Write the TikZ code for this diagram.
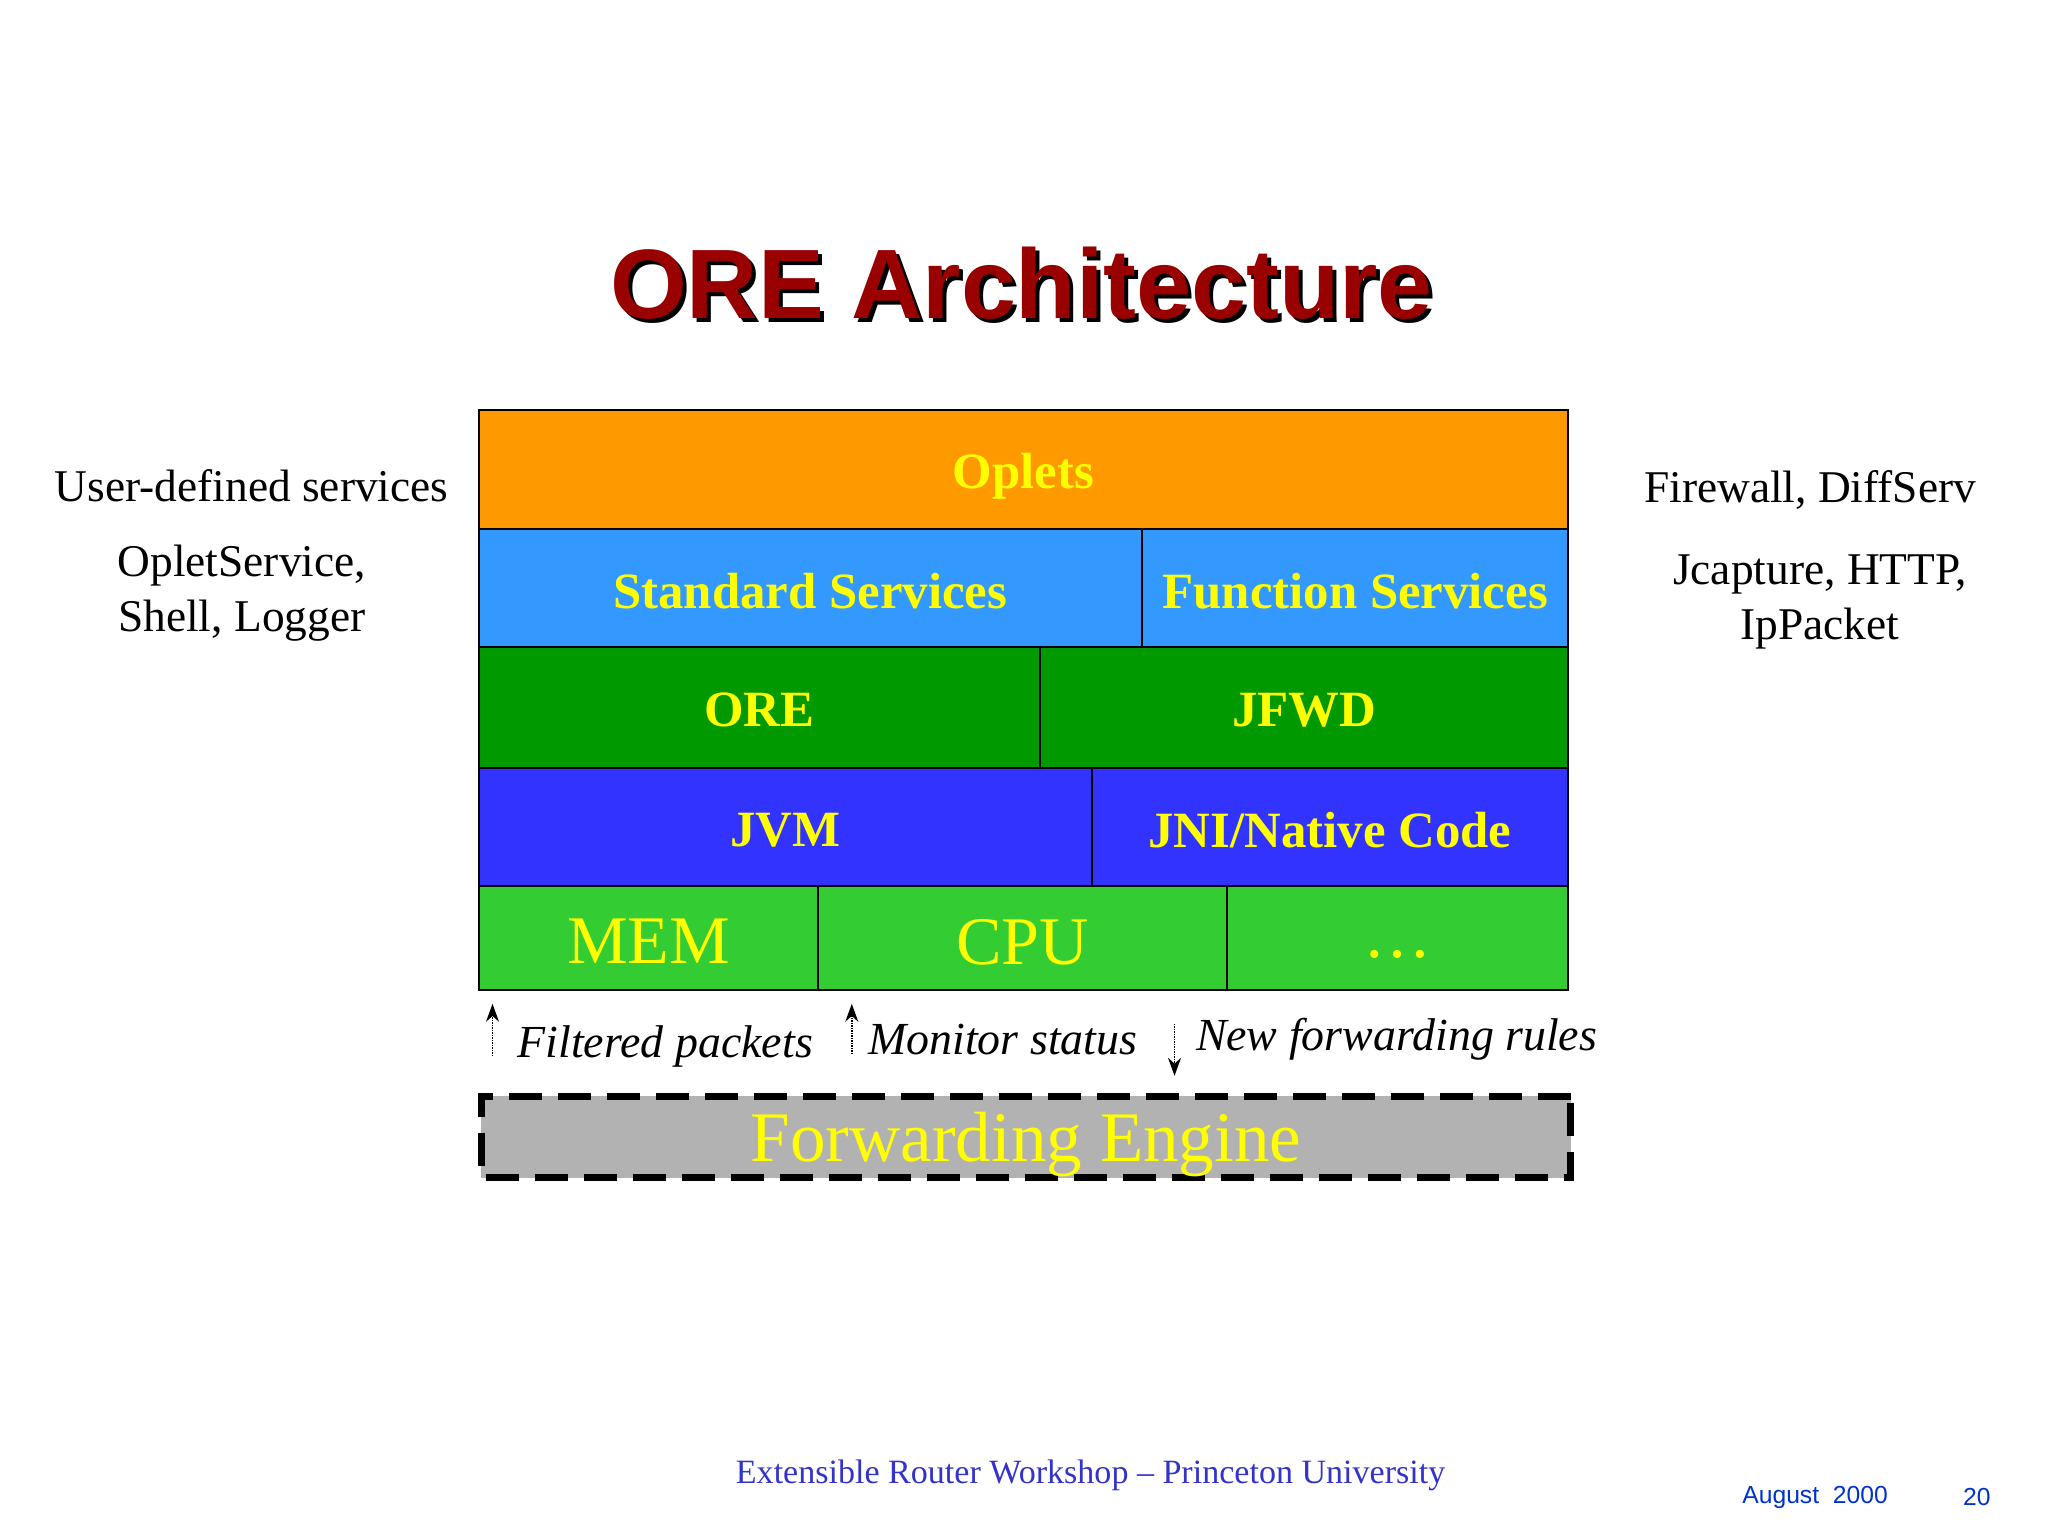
\documentclass[tikz,border=0pt]{standalone}
\usepackage{fontspec}
\setmainfont{Liberation Serif}
\setsansfont{Liberation Sans}
\usetikzlibrary{arrows.meta}
\definecolor{orng}{HTML}{FF9900}
\definecolor{lblue}{HTML}{3399FF}
\definecolor{dgreen}{HTML}{009900}
\definecolor{vblue}{HTML}{3333FF}
\definecolor{bgreen}{HTML}{33CC33}
\definecolor{fegray}{HTML}{B2B2B2}
\definecolor{yel}{HTML}{FFFF00}
\definecolor{ttl}{HTML}{990000}
\definecolor{foot}{HTML}{3333CC}
\definecolor{foot2}{HTML}{0033CC}
\begin{document}
\begin{tikzpicture}[x=0.987pt,y=-0.987pt,every node/.append style={scale=0.987},
  cell/.style={draw=black,line width=2pt,anchor=north west,inner sep=0pt,text=yel,text depth=0pt},
  bl/.style={font=\fontsize{51.5}{54}\selectfont\bfseries},
  hw/.style={font=\fontsize{69}{72}\selectfont},
  side/.style={font=\fontsize{46}{50}\selectfont,align=center},
  lab/.style={font=\fontsize{46.5}{50}\selectfont\itshape},
  arr/.style={densely dotted,line width=1.5pt,-{Stealth[length=18pt,width=13pt]}}]
\useasboundingbox (0,0) rectangle (2075,1556);
\fill[white] (0,0) rectangle (2075,1556);
% title
\node[font=\fontsize{100}{100}\selectfont\sffamily\bfseries,text=black] at (1039,291) {ORE Architecture};
\node[font=\fontsize{100}{100}\selectfont\sffamily\bfseries,text=ttl] (title) at (1035,287) {ORE Architecture};
% rows
\node[cell,fill=orng,minimum width=1104,minimum height=121,bl] (oplets) at (484,414) {\raisebox{-4pt}{Oplets}};
\node[cell,fill=lblue,minimum width=672,minimum height=120,bl] (std) at (484,535) {\raisebox{-5pt}{Standard Services}};
\node[cell,fill=lblue,minimum width=432,minimum height=120,bl] (fun) at (1156,535) {\raisebox{-5pt}{Function Services}};
\node[cell,fill=dgreen,minimum width=569,minimum height=122,bl] (ore) at (484,655) {\raisebox{-5pt}{ORE}};
\node[cell,fill=dgreen,minimum width=535,minimum height=122,bl] (jfwd) at (1053,655) {\raisebox{-5pt}{JFWD}};
\node[cell,fill=vblue,minimum width=621,minimum height=120,bl] (jvm) at (484,777) {\raisebox{-5pt}{JVM}};
\node[cell,fill=vblue,minimum width=483,minimum height=120,bl] (jni) at (1105,777) {\raisebox{-5pt}{JNI/Native Code}};
\node[cell,fill=bgreen,minimum width=344,minimum height=105,hw] (mem) at (484,897) {\raisebox{-7pt}{MEM}};
\node[cell,fill=bgreen,minimum width=414,minimum height=105,hw] (cpu) at (828,897) {\raisebox{-7pt}{CPU}};
\node[cell,fill=bgreen,minimum width=346,minimum height=105,hw] (dots) at (1242,897) {\raisebox{-20pt}{\ldots}};
% forwarding engine
\node[anchor=north west,fill=fegray,draw=black,line width=7pt,dash pattern=on 33pt off 16pt,
  minimum width=1104,minimum height=83,inner sep=0pt,text=yel,text depth=0pt,hw,font=\fontsize{72}{76}\selectfont] (fe) at (484,1107) {Forwarding Engine};
% arrows
\coordinate (a1s) at (499,1070); \coordinate (a1e) at (499,1017);
\coordinate (a2s) at (863,1068); \coordinate (a2e) at (863,1017);
\coordinate (a3s) at (1190,1037); \coordinate (a3e) at (1190,1090);
\draw[arr] (a1s) -- (a1e);
\draw[arr] (a2s) -- (a2e);
\draw[arr] (a3s) -- (a3e);
\node[lab] (l1) at (674,1060) {Filtered packets};
\node[lab] (l2) at (1016,1053) {Monitor status};
\node[lab] (l3) at (1415,1053) {New forwarding rules};
% side texts
\node[side] (u1) at (255,492) {User-defined services};
\node[side,font=\fontsize{46}{55}\selectfont] (u2) at (245,601) {OpletService,\\Shell, Logger};
\node[side] (r1) at (1834,496) {Firewall, DiffServ};
\node[side,font=\fontsize{46}{55}\selectfont] (r2) at (1844,610) {Jcapture, HTTP,\\IpPacket};
% footer
\node[font=\fontsize{34.5}{38}\selectfont,text=foot] (ft) at (1105,1495) {Extensible Router Workshop -- Princeton University};
\node[font=\fontsize{25}{28}\selectfont\sffamily,text=foot2] (dt) at (1839,1517) {August\ \ 2000};
\node[font=\fontsize{25}{28}\selectfont\sffamily,text=foot2] (pg) at (2003,1517) {20};
\end{tikzpicture}
\end{document}
